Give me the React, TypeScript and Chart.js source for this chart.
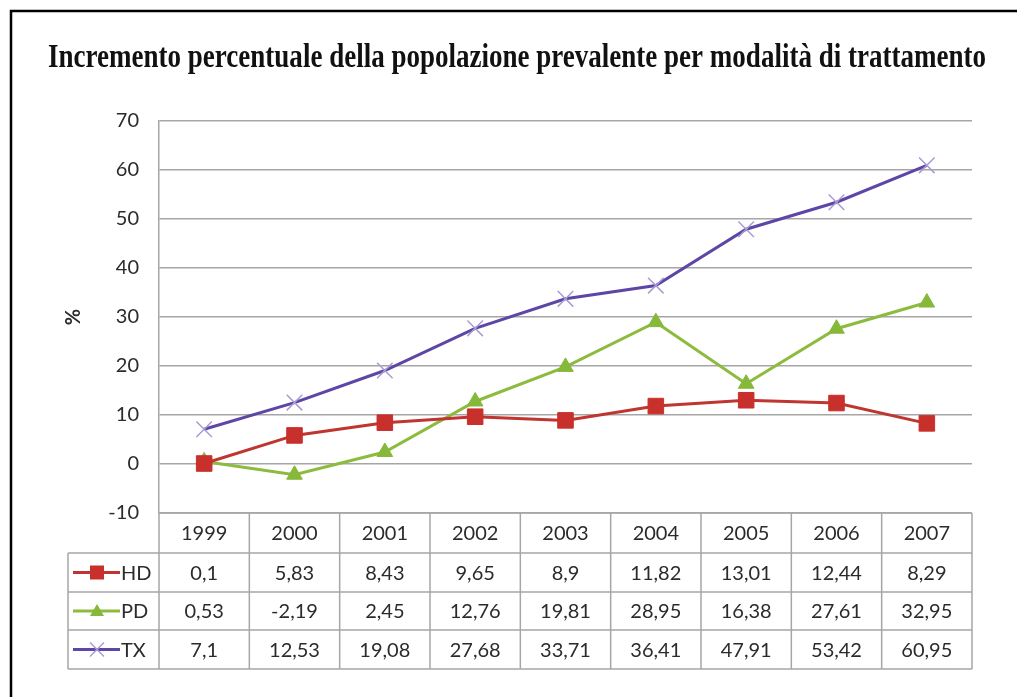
import React, { useEffect, useRef } from "react";
import { Chart, registerables } from "chart.js";

Chart.register(...registerables);

const titleText = "Incremento percentuale della popolazione prevalente per modalità di trattamento";
const years = ["1999", "2000", "2001", "2002", "2003", "2004", "2005", "2006", "2007"];
const seriesNames = ["HD", "PD", "TX"];
const hdValues = [0.1, 5.83, 8.43, 9.65, 8.9, 11.82, 13.01, 12.44, 8.29];
const pdValues = [0.53, -2.19, 2.45, 12.76, 19.81, 28.95, 16.38, 27.61, 32.95];
const txValues = [7.1, 12.53, 19.08, 27.68, 33.71, 36.41, 47.91, 53.42, 60.95];
const yMin = -10;
const yMax = 70;
const yStep = 10;
const yAxisTitle = "%";

const HD_LINE = "#c0352f";
const HD_FILL = "#c8302c";
const PD_LINE = "#8cbb3e";
const PD_FILL = "#86b83a";
const TX_LINE = "#5e46a6";
const TX_MARK = "#a89cd2";
const GRID = "#a6a6a6";
const TEXT = "#2b2b2b";
const FONT = "Lato";

const fmt = (v: number) => String(v).replace(".", ",");

function drawMarker(ctx: CanvasRenderingContext2D, kind: string, x: number, y: number) {
  ctx.save();
  if (kind === "rect") {
    ctx.fillStyle = HD_FILL;
    ctx.fillRect(x - 7, y - 7, 14, 14);
  } else if (kind === "triangle") {
    ctx.fillStyle = PD_FILL;
    ctx.beginPath();
    ctx.moveTo(x, y - 7);
    ctx.lineTo(x + 7, y + 5);
    ctx.lineTo(x - 7, y + 5);
    ctx.closePath();
    ctx.fill();
  } else {
    ctx.strokeStyle = TX_MARK;
    ctx.lineWidth = 1.5;
    ctx.beginPath();
    ctx.moveTo(x - 7, y - 7);
    ctx.lineTo(x + 7, y + 7);
    ctx.moveTo(x + 7, y - 7);
    ctx.lineTo(x - 7, y + 7);
    ctx.stroke();
  }
  ctx.restore();
}

const framePlugin = {
  id: "frame",
  beforeDraw(chart: any) {
    const ctx = chart.ctx as CanvasRenderingContext2D;
    ctx.save();
    ctx.fillStyle = "#ffffff";
    ctx.fillRect(0, 0, chart.width, chart.height);
    ctx.strokeStyle = "#000000";
    ctx.lineWidth = 2.5;
    ctx.strokeRect(11, 11, chart.width + 40, chart.height + 40);
    // title
    ctx.font = `bold 33px "Liberation Serif"`;
    ctx.fillStyle = "#111111";
    ctx.textBaseline = "alphabetic";
    const w = ctx.measureText(titleText).width;
    const targetW = 938;
    const sx = targetW / w;
    ctx.translate(517 - targetW / 2, 67);
    ctx.scale(sx, 1);
    ctx.fillText(titleText, 0, 0);
    ctx.restore();
  },
};

const tablePlugin = {
  id: "dataTable",
  afterDraw(chart: any) {
    const ctx = chart.ctx as CanvasRenderingContext2D;
    const xs = chart.scales.x;
    const area = chart.chartArea;
    const n = years.length;
    const colW = (area.right - area.left) / n;
    const top = area.bottom;
    const rowH = [40, 39, 38, 39];
    const rowTops: number[] = [top];
    for (let i = 0; i < rowH.length; i++) rowTops.push(rowTops[i] + rowH[i]);
    const bottom = rowTops[rowTops.length - 1];
    const legendLeft = 68;

    ctx.save();
    ctx.strokeStyle = GRID;
    ctx.lineWidth = 1.5;
    ctx.beginPath();
    ctx.moveTo(area.left, top);
    ctx.lineTo(area.right, top);
    for (let r = 1; r < rowTops.length; r++) {
      ctx.moveTo(legendLeft, rowTops[r]);
      ctx.lineTo(area.right, rowTops[r]);
    }
    for (let c = 0; c <= n; c++) {
      const x = area.left + c * colW;
      ctx.moveTo(x, top);
      ctx.lineTo(x, bottom);
    }
    ctx.moveTo(legendLeft, rowTops[1]);
    ctx.lineTo(legendLeft, bottom);
    ctx.stroke();

    ctx.fillStyle = TEXT;
    ctx.font = `20px ${FONT}`;
    ctx.textAlign = "center";
    ctx.textBaseline = "middle";
    years.forEach((yr, i) => {
      const cx = xs.getPixelForValue(i);
      ctx.fillText(yr, cx, rowTops[0] + rowH[0] / 2 + 1);
    });
    const all = [hdValues, pdValues, txValues];
    const colors = [HD_LINE, PD_LINE, TX_LINE];
    const kinds = ["rect", "triangle", "crossRot"];
    all.forEach((vals, r) => {
      const cy = rowTops[r + 1] + rowH[r + 1] / 2 + 1;
      vals.forEach((v, i) => {
        const cx = xs.getPixelForValue(i);
        ctx.fillStyle = TEXT;
        ctx.fillText(fmt(v), cx, cy);
      });
      ctx.strokeStyle = colors[r];
      ctx.lineWidth = 3;
      ctx.beginPath();
      ctx.moveTo(73, cy - 1);
      ctx.lineTo(120, cy - 1);
      ctx.stroke();
      drawMarker(ctx, kinds[r], 97, cy - 1);
      ctx.fillStyle = TEXT;
      ctx.textAlign = "left";
      ctx.fillText(seriesNames[r], 121, cy);
      ctx.textAlign = "center";
    });
    ctx.restore();
  },
};

export default function App() {
  const ref = useRef<HTMLCanvasElement | null>(null);
  useEffect(() => {
    document.body.style.margin = "0";
    const canvas = ref.current;
    if (!canvas) return;
    const chart = new Chart(canvas, {
      type: "line",
      data: {
        labels: years,
        datasets: [
          {
            label: seriesNames[0],
            data: hdValues,
            borderColor: HD_LINE,
            backgroundColor: HD_FILL,
            borderWidth: 3,
            pointStyle: "rect",
            pointRadius: 11,
            pointBorderColor: HD_FILL,
            pointBackgroundColor: HD_FILL,
            pointBorderWidth: 1,
            tension: 0,
          },
          {
            label: seriesNames[1],
            data: pdValues,
            borderColor: PD_LINE,
            backgroundColor: PD_FILL,
            borderWidth: 3,
            pointStyle: "triangle",
            pointRadius: 9,
            pointBorderColor: PD_FILL,
            pointBackgroundColor: PD_FILL,
            pointBorderWidth: 1,
            tension: 0,
          },
          {
            label: seriesNames[2],
            data: txValues,
            borderColor: TX_LINE,
            backgroundColor: TX_MARK,
            borderWidth: 3,
            pointStyle: "crossRot",
            pointRadius: 11,
            pointBorderColor: TX_MARK,
            pointBorderWidth: 1.5,
            tension: 0,
          },
        ],
      },
      options: {
        animation: false,
        responsive: false,
        maintainAspectRatio: false,
        layout: { padding: { left: 0, right: 45, top: 121, bottom: 184 } },
        plugins: {
          legend: { display: false },
          title: { display: false },
          tooltip: { enabled: false },
        },
        scales: {
          x: {
            offset: true,
            grid: { display: false, drawTicks: false },
            border: { display: false },
            ticks: { display: false },
            afterFit: (s: any) => {
              s.height = 0;
            },
          },
          y: {
            min: yMin,
            max: yMax,
            ticks: {
              stepSize: yStep,
              color: TEXT,
              font: { family: FONT, size: 20 },
              padding: 20,
            },
            grid: { color: GRID, lineWidth: 1.5, drawTicks: false },
            border: { display: true, color: GRID, width: 1.5 },
            title: {
              display: true,
              text: yAxisTitle,
              color: TEXT,
              font: { family: FONT, size: 20, weight: "bold" },
              padding: { top: 62, bottom: 0 },
            },
            afterFit: (s: any) => {
              s.width = 159;
            },
          },
        },
      },
      plugins: [framePlugin, tablePlugin],
    });
    return () => chart.destroy();
  }, []);
  return (
    <div style={{ position: "fixed", left: 0, top: 0, width: 1017, height: 697 }}>
      <canvas ref={ref} width={1017} height={697} style={{ width: 1017, height: 697 }} />
    </div>
  );
}
